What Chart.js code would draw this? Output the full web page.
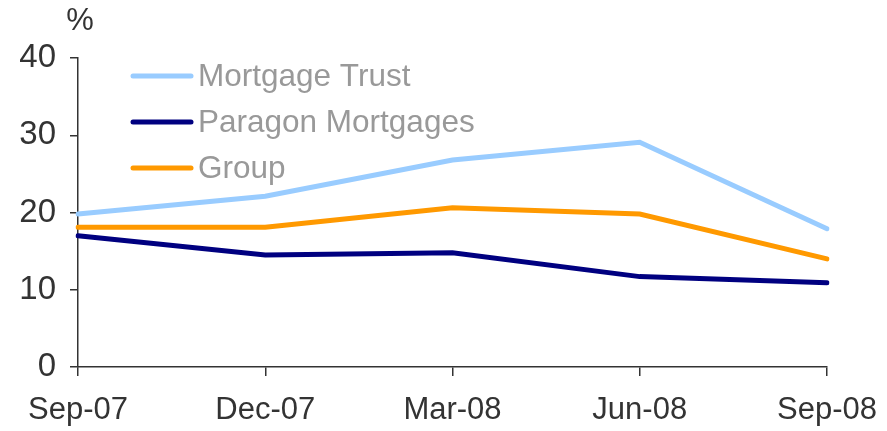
<!DOCTYPE html>
<html><head><meta charset="utf-8">
<script src="https://cdn.jsdelivr.net/npm/chart.js@4/dist/chart.umd.min.js"></script>
<style>html,body{margin:0;padding:0;background:#fff}#wrap{width:887px;height:431px}</style>
</head><body><div id="wrap"><canvas id="c" width="887" height="431"></canvas></div>
<script>
const categories = ["Sep-07", "Dec-07", "Mar-08", "Jun-08", "Sep-08"];
const mortgageTrust = [19.8, 22.1, 26.8, 29.1, 17.9];
const paragonMortgages = [17.0, 14.5, 14.8, 11.7, 10.9];
const group = [18.1, 18.1, 20.6, 19.8, 14.0];
const yTicks = [0, 10, 20, 30, 40];
const unitLabel = "%";

const FONT = "'Liberation Sans', Arial, sans-serif";

const legendPlugin = {
  id: 'customLegend',
  afterDraw(chart) {
    const ctx = chart.ctx;
    ctx.save();
    ctx.fillStyle = '#333333';
    ctx.font = '31px ' + FONT;
    ctx.textAlign = 'center';
    ctx.textBaseline = 'middle';
    ctx.fillText(unitLabel, 80, 21);
    const x0 = 133, x1 = 191, tx = 198;
    let y = 76;
    chart.data.datasets.forEach(ds => {
      ctx.strokeStyle = ds.borderColor;
      ctx.lineWidth = 5;
      ctx.lineCap = 'round';
      ctx.beginPath(); ctx.moveTo(x0, y); ctx.lineTo(x1, y); ctx.stroke();
      ctx.fillStyle = '#999999';
      ctx.font = '31.5px ' + FONT;
      ctx.textAlign = 'left';
      ctx.textBaseline = 'middle';
      ctx.fillText(ds.label, tx, y + 1);
      y += 46;
    });
    ctx.restore();
  }
};

new Chart(document.getElementById('c'), {
  type: 'line',
  data: {
    labels: categories,
    datasets: [
      { label: 'Mortgage Trust', data: mortgageTrust, borderColor: '#99CCFF' },
      { label: 'Paragon Mortgages', data: paragonMortgages, borderColor: '#000080' },
      { label: 'Group', data: group, borderColor: '#FF9900' }
    ].map(d => Object.assign(d, { borderWidth: 5, pointRadius: 0, tension: 0, fill: false, borderCapStyle: 'round', borderJoinStyle: 'miter' }))
  },
  options: {
    responsive: false,
    animation: false,
    layout: { padding: { left: 0, right: 60, top: 58, bottom: 0 } },
    plugins: { legend: { display: false }, tooltip: { enabled: false } },
    scales: {
      x: {
        offset: false,
        grid: { display: true, drawOnChartArea: false, drawTicks: true, tickLength: 9, color: '#333333', lineWidth: 1.5 },
        border: { display: true, color: '#333333', width: 1.5 },
        ticks: { color: '#333333', font: { family: FONT, size: 31 }, padding: 16, maxRotation: 0, autoSkip: false },
        afterFit(s) { s.height = 64; s.paddingRight = 0; s.paddingLeft = 0; }
      },
      y: {
        min: 0, max: 40,
        afterBuildTicks(s) { s.ticks = yTicks.map(v => ({ value: v })); },
        grid: { display: true, drawOnChartArea: false, drawTicks: true, tickLength: 8, color: '#333333', lineWidth: 1.5 },
        border: { display: true, color: '#333333', width: 1.5 },
        ticks: { color: '#333333', font: { family: FONT, size: 33 }, padding: 14 },
        afterFit(s) { s.width = 78; s.paddingTop = 0; s.paddingBottom = 0; }
      }
    }
  },
  plugins: [legendPlugin]
});
</script></body></html>
